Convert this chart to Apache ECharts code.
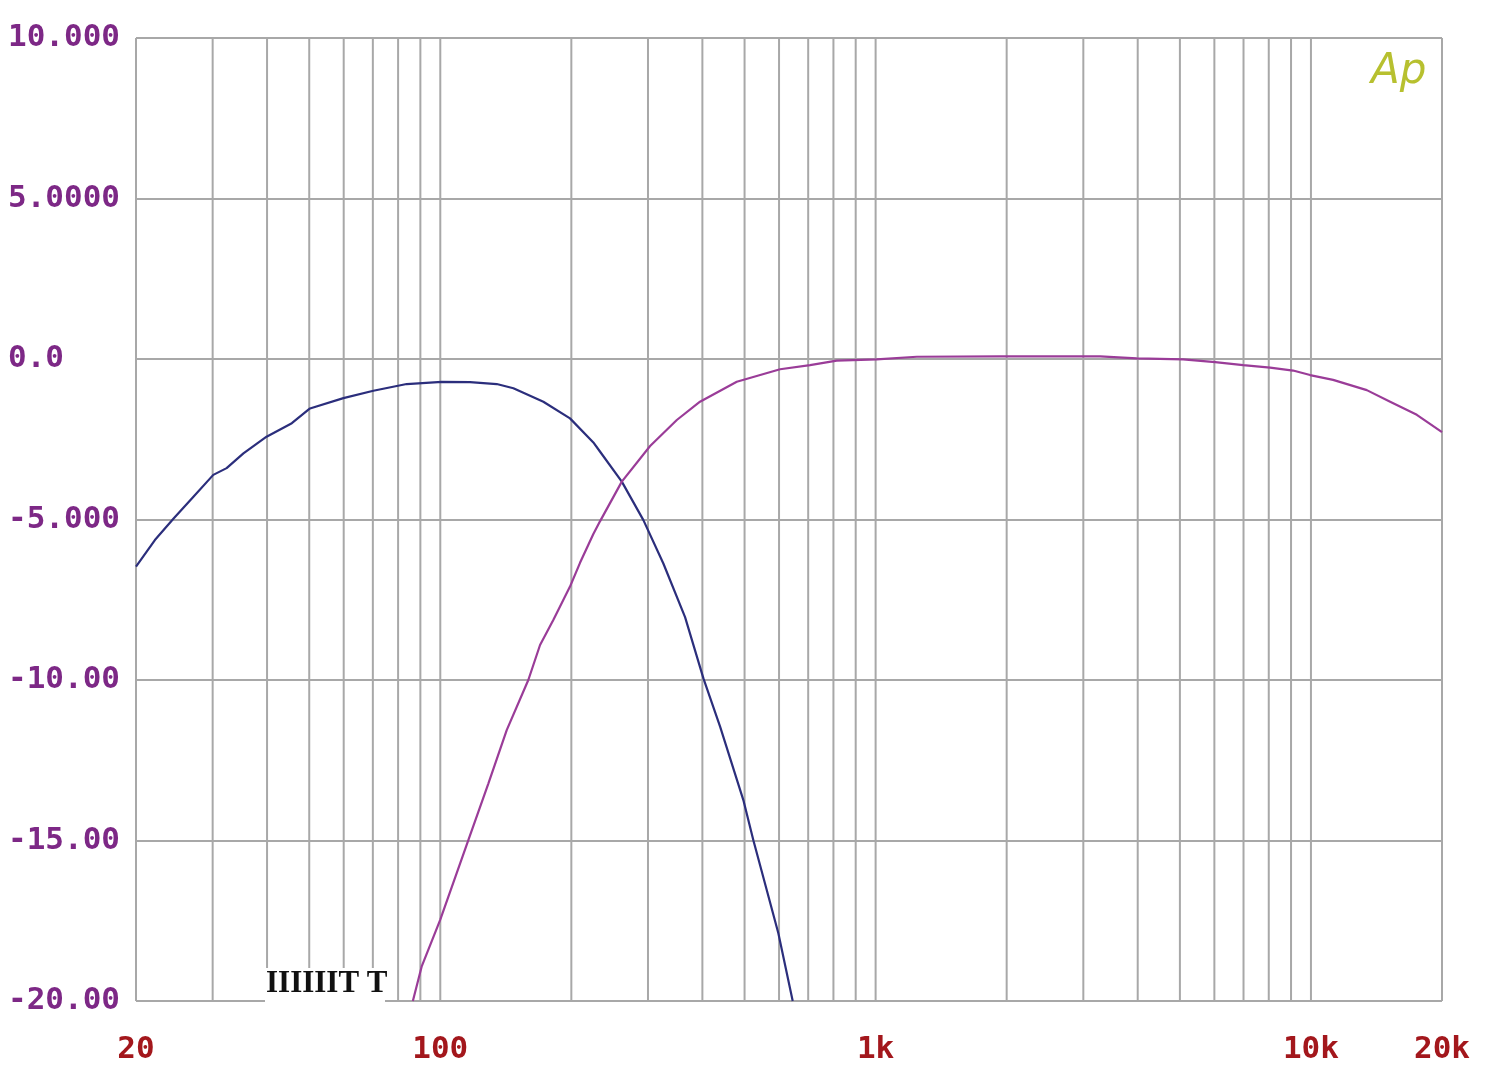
<!DOCTYPE html>
<html>
<head>
<meta charset="utf-8">
<script src="https://cdn.jsdelivr.net/npm/echarts@6/dist/echarts.min.js"></script>
<style>
html,body{margin:0;padding:0;background:#fff;}
#chart{width:1500px;height:1072px;}
</style>
</head>
<body>
<div id="chart"></div>
<script>
// Woofer (blue) response
const wooferFreq = [20, 22.1, 24.4, 27.1, 30.1, 32.3, 35.3, 39.9, 45.6, 50.2, 59.9, 70.2, 83.7, 100.8, 117, 134.8, 147.2, 172.5, 198.6, 224.7, 232.9, 261.2, 292.8, 325.4, 365, 402.2, 439.3, 496.8, 523.8, 562.2, 597.8, 645];
const wooferDb   = [-6.47, -5.64, -4.97, -4.29, -3.61, -3.40, -2.94, -2.42, -2.00, -1.54, -1.22, -0.99, -0.78, -0.71, -0.72, -0.78, -0.91, -1.33, -1.85, -2.60, -2.89, -3.82, -5.02, -6.37, -8.04, -9.95, -11.45, -13.74, -14.99, -16.54, -17.89, -20.0];

// Tweeter (magenta) response
const tweeterFreq = [86.5, 90.6, 99.9, 116, 129, 142.1, 159.3, 169.5, 181.8, 198.6, 209.4, 224.7, 232.9, 261.2, 303.4, 349.4, 395, 479.8, 603.4, 707, 814, 1006, 1243, 1931, 3278, 3980, 5086, 6024, 6986, 8058, 9098, 9954, 11242, 13436, 15202, 17506, 20000];
const tweeterDb   = [-20.0, -18.93, -17.48, -14.99, -13.22, -11.56, -10.0, -8.91, -8.13, -7.09, -6.35, -5.45, -5.05, -3.82, -2.71, -1.90, -1.33, -0.71, -0.32, -0.19, -0.05, -0.01, 0.07, 0.08, 0.08, 0.02, -0.01, -0.10, -0.19, -0.27, -0.36, -0.50, -0.65, -0.97, -1.33, -1.74, -2.28];

// Vertical grid line frequencies
const gridFreqs = [20, 30, 40, 50, 60, 70, 80, 90, 100, 200, 300, 400, 500, 600, 700, 800, 900, 1000, 2000, 3000, 4000, 5000, 6000, 7000, 8000, 9000, 10000, 20000];

// Tick labels
const xTickValues = [20, 100, 1000, 10000, 20000];
const xTickLabels = ['20', '100', '1k', '10k', '20k'];
const yTickValues = [-20, -15, -10, -5, 0, 5, 10];
const yTickLabels = ['-20.00', '-15.00', '-10.00', '-5.000', '0.0', '5.0000', '10.000'];

const zip = (a, b) => a.map((v, i) => [v, b[i]]);

const chart = echarts.init(document.getElementById('chart'), null, {renderer: 'canvas'});
const GRID_COLOR = '#a8a8a8';
const option = {
  animation: false,
  backgroundColor: '#ffffff',
  grid: {left: 136, right: 58, top: 38, bottom: 71, containLabel: false},
  xAxis: {
    type: 'log',
    logBase: 10,
    min: 20,
    max: 20000,
    axisLine: {show: false},
    axisTick: {show: false},
    splitLine: {show: false},
    axisLabel: {
      showMinLabel: true,
      showMaxLabel: true,
      margin: 33,
      color: '#a3171c',
      fontFamily: 'DejaVu Sans Mono',
      fontWeight: 'bold',
      fontSize: 31,
      formatter: function (v) {
        for (let i = 0; i < xTickValues.length; i++) {
          if (Math.abs(v - xTickValues[i]) / xTickValues[i] < 1e-6) return xTickLabels[i];
        }
        return '';
      }
    }
  },
  yAxis: {
    type: 'value',
    min: -20,
    max: 10,
    interval: 5,
    axisLine: {show: false},
    axisTick: {show: false},
    splitLine: {show: true, lineStyle: {color: GRID_COLOR, width: 2}},
    axisLabel: {
      align: 'left',
      margin: 128,
      color: '#7d2886',
      fontFamily: 'DejaVu Sans Mono',
      fontWeight: 'bold',
      fontSize: 31,
      formatter: function (v) {
        const i = yTickValues.indexOf(v);
        return i >= 0 ? yTickLabels[i] : '';
      }
    }
  },
  series: [
    {
      type: 'custom',
      z: 1,
      silent: true,
      data: gridFreqs.map(f => [f]),
      encode: {x: 0},
      renderItem: function (params, api) {
        const f = api.value(0);
        const p1 = api.coord([f, 10]);
        const p2 = api.coord([f, -20]);
        return {
          type: 'line',
          shape: {x1: p1[0], y1: p1[1], x2: p2[0], y2: p2[1]},
          style: {stroke: GRID_COLOR, lineWidth: 2}
        };
      }
    },
    {
      type: 'line',
      z: 3,
      data: zip(wooferFreq, wooferDb),
      showSymbol: false,
      symbol: 'none',
      clip: true,
      lineStyle: {color: '#2b2e7c', width: 2.2}
    },
    {
      type: 'line',
      z: 3,
      data: zip(tweeterFreq, tweeterDb),
      showSymbol: false,
      symbol: 'none',
      clip: true,
      lineStyle: {color: '#9a3c98', width: 2.2}
    }
  ],
  graphic: [
    {
      type: 'rect',
      z: 100,
      shape: {x: 265, y: 968, width: 120, height: 36},
      style: {fill: '#ffffff'}
    },
    {
      type: 'text',
      z: 101,
      left: 266,
      top: 968,
      style: {
        text: 'IIIIIIT T',
        fill: '#111111',
        font: 'bold 31px "Liberation Serif"'
      }
    },
    {
      type: 'text',
      z: 101,
      left: 1371,
      top: 51,
      style: {
        text: 'Ap',
        fill: '#b7c02f',
        font: 'italic 42px "DejaVu Sans ExtraLight", "DejaVu Sans"'
      }
    }
  ]
};
chart.setOption(option);
</script>
</body>
</html>
